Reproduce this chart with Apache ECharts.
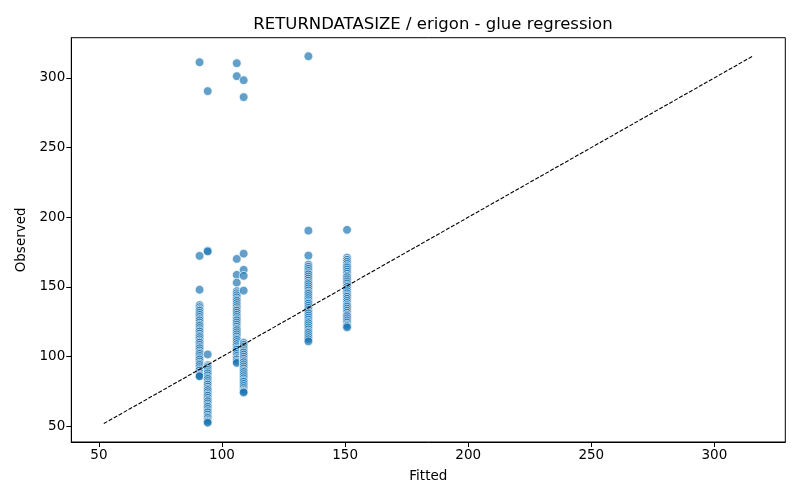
<!DOCTYPE html>
<html>
<head>
<meta charset="utf-8">
<script src="https://cdn.jsdelivr.net/npm/echarts@6/dist/echarts.min.js"></script>
<style>html,body{margin:0;padding:0;background:#fff}#c{width:800px;height:500px}</style>
</head>
<body>
<div id="c"></div>
<script>
const title = "RETURNDATASIZE / erigon - glue regression";
const xLabel = "Fitted";
const yLabel = "Observed";
const tickValues = [50, 100, 150, 200, 250, 300];
const axisMin = 38.8, axisMax = 328.8;
const refLine = [52, 315.6];

const fittedLevels = [90.9, 94.2, 106.0, 108.8, 135.1, 150.8];
const observedA = [311.2, 172.3, 148, 137,135.5,134,133,131.5,130,128.5,127,126,124.5,123,122,120.5,119,118,116.5,115,114,112.5,111,110,108.5,107,106,104.5,103,102,100.5,99,98,96.5,95,94,92.5,91,90,88.5,87,86,86];
const observedB = [290.5, 176, 175.5, 101.6, 94,93,92,90.5,89,88,86.5,85,84,82.5,81,80,78.5,77,76,74.5,73,72,70.5,69,68,66.5,65,64,62.5,61,60,58.5,57,56,54.5,53.5,52.6];
const observedC = [310.5, 301.2, 170.1, 158.7, 153.1, 147,145.5,144,142.5,141,140,138.5,137,135.5,134,133,131.5,130,128.5,127,126,124.5,123,121.5,120,119,117.5,116,114.5,113,112,110.5,109,107.5,106,105,103.5,102,100.5,99,98,96.5,95.5];
const observedD = [298.3, 286.2, 173.9, 162.3, 158, 147.4, 110,108.5,107,105.5,104,103,101.5,100,98.5,97,96,94.5,93,91.5,90,89,87.5,86,84.5,83,82,80.5,79,77.5,76,75,74.3];
const observedE = [315.5, 190.4, 172.5, 166,164.5,163,161.5,160,159,157.5,156,154.5,153,152,150.5,149,147.5,146,145,143.5,142,140.5,139,138,136.5,135,133.5,132,131,129.5,128,126.5,125,124,122.5,121,119.5,118,117,115.5,114,112.5,111];
const observedF = [191, 171,169.5,168,166.5,165,164,162.5,161,159.5,158,157,155.5,154,152.5,151,150,148.5,147,145.5,144,143,141.5,140,138.5,137,136,134.5,133,131.5,130,129,127.5,126,124.5,123,122,121];

const columns = [observedA, observedB, observedC, observedD, observedE, observedF];
const points = [];
columns.forEach((ys, i) => ys.forEach(y => points.push([fittedLevels[i], y])));

const font = "DejaVu Sans";
const chart = echarts.init(document.getElementById('c'));
const axisCommon = {
  type: 'value', min: axisMin, max: axisMax,
  axisLine: { show: true, onZero: false, lineStyle: { color: '#000', width: 1 } },
  axisTick: { show: true, inside: false, length: 5, lineStyle: { color: '#000', width: 1 }, customValues: tickValues },
  axisLabel: { show: true, color: '#000', fontSize: 13.5, fontFamily: font, margin: 6, customValues: tickValues },
  splitLine: { show: false },
  nameLocation: 'middle',
  nameTextStyle: { color: '#000', fontSize: 13.5, fontFamily: font }
};
chart.setOption({
  animation: false,
  backgroundColor: '#fff',
  title: { text: title, left: 428, top: 11, textAlign: 'center',
    textStyle: { color: '#000', fontSize: 16.5, fontWeight: 'normal', fontFamily: font } },
  grid: { left: 71.3, right: 14.7, top: 37.7, bottom: 58, show: true, borderColor: '#000', borderWidth: 1, containLabel: false },
  xAxis: Object.assign({}, axisCommon, { name: xLabel, nameGap: 27 }),
  yAxis: Object.assign({}, axisCommon, { name: yLabel, nameGap: 42 }),
  series: [
    { type: 'scatter', data: points, symbol: 'circle', symbolSize: 8.8,
      itemStyle: { color: '#1f77b4', opacity: 0.7, borderColor: '#fff', borderWidth: 1 }, z: 2 },
    { type: 'line', data: [[refLine[0], refLine[0]], [refLine[1], refLine[1]]], symbol: 'none',
      lineStyle: { color: '#000', width: 1.1, type: [4, 1.7] }, z: 3, silent: true }
  ]
});
</script>
</body>
</html>
